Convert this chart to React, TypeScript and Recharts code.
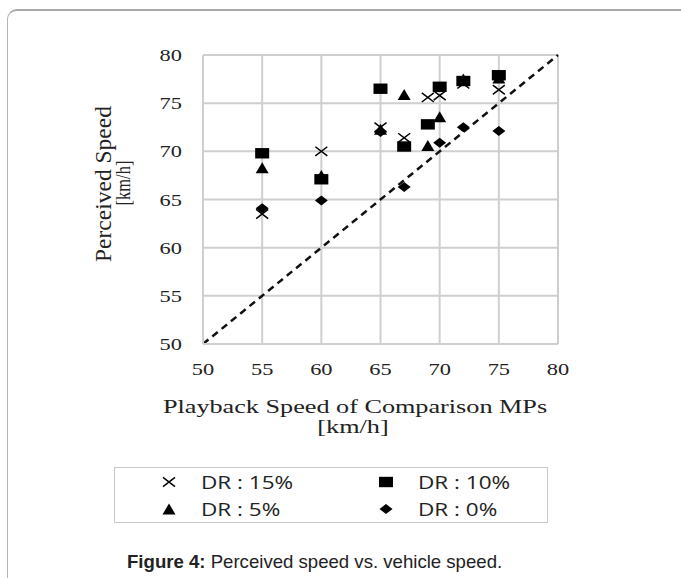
import React from 'react';
import {
  ScatterChart,
  Scatter,
  XAxis,
  YAxis,
  CartesianGrid,
  ReferenceLine,
  Legend,
  Label,
} from 'recharts';

// ---------- data ----------
const xTicks = [50, 55, 60, 65, 70, 75, 80];
const yTicks = [50, 55, 60, 65, 70, 75, 80];

const seriesNames = ['DR : 15%', 'DR : 10%', 'DR : 5%', 'DR : 0%'];

const dr15X = [55, 60, 65, 67, 69, 70, 72, 75];
const dr15Y = [63.5, 70.0, 72.5, 71.4, 75.6, 75.8, 77.0, 76.4];

const dr10X = [55, 60, 65, 67, 69, 70, 72, 75];
const dr10Y = [69.8, 67.1, 76.5, 70.5, 72.8, 76.7, 77.3, 77.9];

const dr5X = [55, 60, 65, 67, 69, 70, 72, 75];
const dr5Y = [68.3, 67.5, 72.3, 75.9, 70.6, 73.6, 77.5, 77.6];

const dr0X = [55, 60, 65, 67, 70, 72, 75];
const dr0Y = [64.1, 64.9, 72.0, 66.3, 70.9, 72.5, 72.1];

const diagonal = [50, 80];

const toPoints = (xs: number[], ys: number[]) => xs.map((x, i) => ({ x, y: ys[i] }));

// ---------- marker shapes ----------
const CrossMark = ({ cx, cy, w = 6, h = 4.6 }: any) => (
  <path
    d={`M${cx - w},${cy - h}L${cx + w},${cy + h}M${cx - w},${cy + h}L${cx + w},${cy - h}`}
    stroke="#000"
    strokeWidth={1.5}
    fill="none"
  />
);
const SquareMark = ({ cx, cy, w = 7, h = 5.2 }: any) => (
  <rect x={cx - w} y={cy - h} width={2 * w} height={2 * h} fill="#000" />
);
const TriangleMark = ({ cx, cy, w = 6.5, h = 5.5 }: any) => (
  <path d={`M${cx},${cy - h}L${cx + w},${cy + h}L${cx - w},${cy + h}Z`} fill="#000" />
);
const DiamondMark = ({ cx, cy, w = 6.5, h = 5 }: any) => (
  <path d={`M${cx},${cy - h}L${cx + w},${cy}L${cx},${cy + h}L${cx - w},${cy}Z`} fill="#000" />
);

const markFor: Record<string, any> = {
  'DR : 15%': CrossMark,
  'DR : 10%': SquareMark,
  'DR : 5%': TriangleMark,
  'DR : 0%': DiamondMark,
};

// ---------- ticks & titles ----------
const serif = '"Liberation Serif", "Times New Roman", serif';

const XTick = ({ x, y, payload }: any) => (
  <text
    transform={`translate(${x},${y + 31}) scale(1.4,1)`}
    textAnchor="middle"
    fontFamily={serif}
    fontSize={16}
    fill="#222"
  >
    {payload.value}
  </text>
);

const YTick = ({ x, y, payload }: any) => (
  <text
    transform={`translate(${x - 21},${y + 6}) scale(1.4,1)`}
    textAnchor="end"
    fontFamily={serif}
    fontSize={16}
    fill="#222"
  >
    {payload.value}
  </text>
);

const XTitle = () => (
  <g fontFamily={serif} fill="#222" fontSize={19}>
    <text transform="translate(355,413) scale(1.38,1)" textAnchor="middle">
      Playback Speed of Comparison MPs
    </text>
    <text transform="translate(353,433) scale(1.38,1)" textAnchor="middle">
      [km/h]
    </text>
  </g>
);

const YTitle = () => (
  <g fontFamily={serif} fill="#222">
    <text transform="translate(111,184) rotate(-90)" textAnchor="middle" fontSize={23.5}>
      Perceived Speed
    </text>
    <text transform="translate(130,183) rotate(-90) scale(1,1.3)" textAnchor="middle" fontSize={16.5}>
      [km/h]
    </text>
  </g>
);

// ---------- legend ----------
const LegendBox = (props: any) => {
  const payload = [...(props.payload || [])].sort(
    (a: any, b: any) => seriesNames.indexOf(a.value) - seriesNames.indexOf(b.value)
  );
  return (
    <div
      style={{
        width: 434,
        height: 56,
        border: '1px solid #c8c8c8',
        boxSizing: 'border-box',
        position: 'relative',
        background: '#fff',
      }}
    >
      {payload.map((item: any, i: number) => {
        const col = i % 2;
        const row = Math.floor(i / 2);
        const Mark = markFor[item.value];
        return (
          <div
            key={item.value}
            style={{
              position: 'absolute',
              left: col ? 255 : 38,
              top: row ? 28 : 1,
              height: 26,
              display: 'flex',
              alignItems: 'center',
            }}
          >
            <svg width={32} height={26} style={{ display: 'block' }}>
              <Mark cx={16} cy={13} />
            </svg>
            <span
              style={{
                marginLeft: 16,
                fontFamily: '"Open Sans", sans-serif',
                fontSize: 18,
                lineHeight: '26px',
                color: '#222',
                display: 'inline-block',
                transform: 'scaleX(1.25)',
                transformOrigin: 'left center',
                whiteSpace: 'nowrap',
              }}
            >
              {item.value}
            </span>
          </div>
        );
      })}
    </div>
  );
};

export default function App() {
  const series = [
    { name: seriesNames[0], data: toPoints(dr15X, dr15Y), shape: CrossMark },
    { name: seriesNames[1], data: toPoints(dr10X, dr10Y), shape: SquareMark },
    { name: seriesNames[2], data: toPoints(dr5X, dr5Y), shape: TriangleMark },
    { name: seriesNames[3], data: toPoints(dr0X, dr0Y), shape: DiamondMark },
  ];
  return (
    <div
      style={{
        position: 'absolute',
        left: 0,
        top: 0,
        width: 681,
        height: 578,
        overflow: 'hidden',
        background: '#fff',
      }}
    >
      <div
        style={{
          position: 'absolute',
          left: 7,
          top: 9,
          width: 720,
          height: 640,
          border: '1px solid #b4b4b4',
          borderTop: '2px solid #a8a8a8',
          borderRadius: 10,
          boxSizing: 'border-box',
        }}
      />
      <div style={{ position: 'absolute', left: 0, top: 0 }}>
        <ScatterChart
          width={681}
          height={578}
          margin={{ top: 55, right: 123, bottom: 204, left: 143 }}
        >
          <CartesianGrid stroke="#cfcfcf" strokeWidth={2} />
          <XAxis
            type="number"
            dataKey="x"
            domain={[50, 80]}
            ticks={xTicks}
            interval={0}
            height={30}
            tickLine={false}
            tickSize={0}
            tickMargin={0}
            axisLine={{ stroke: '#cfcfcf', strokeWidth: 2 }}
            tick={<XTick />}
          >
            <Label content={<XTitle />} />
          </XAxis>
          <YAxis
            type="number"
            dataKey="y"
            domain={[50, 80]}
            ticks={yTicks}
            interval={0}
            width={60}
            tickLine={false}
            tickSize={0}
            tickMargin={0}
            axisLine={{ stroke: '#cfcfcf', strokeWidth: 2 }}
            tick={<YTick />}
          >
            <Label content={<YTitle />} />
          </YAxis>
          <ReferenceLine
            segment={[
              { x: diagonal[0], y: diagonal[0] },
              { x: diagonal[1], y: diagonal[1] },
            ]}
            stroke="#111"
            strokeWidth={2.5}
            strokeDasharray="7 5"
          />
          {series.map((s) => (
            <Scatter
              key={s.name}
              name={s.name}
              data={s.data}
              fill="#000"
              shape={s.shape}
              isAnimationActive={false}
            />
          ))}
          <Legend
            layout="horizontal"
            verticalAlign="middle"
            align="center"
            content={<LegendBox />}
            wrapperStyle={{ left: 114, top: 467, width: 434, height: 56 }}
          />
        </ScatterChart>
      </div>
      <div
        style={{
          position: 'absolute',
          left: 127,
          top: 551,
          fontFamily: '"Liberation Sans", Arial, sans-serif',
          fontSize: 18.6,
          color: '#222',
          whiteSpace: 'nowrap',
          lineHeight: '21px',
        }}
      >
        <b>Figure 4:</b> Perceived speed vs. vehicle speed.
      </div>
    </div>
  );
}
